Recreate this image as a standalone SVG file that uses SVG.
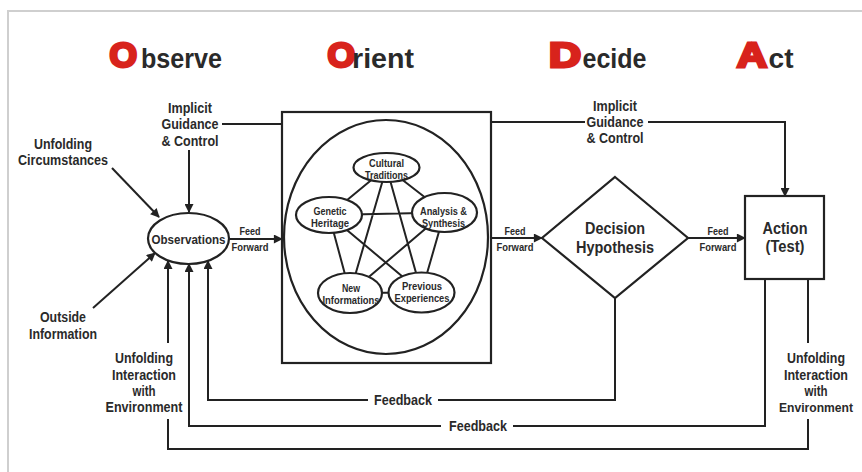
<svg xmlns="http://www.w3.org/2000/svg" width="862" height="472" viewBox="0 0 862 472">
<defs>
<marker id="ah" viewBox="0 0 10 10" refX="9" refY="5" markerWidth="11" markerHeight="9" markerUnits="userSpaceOnUse" orient="auto">
<path d="M0,0 L10,5 L0,10 z" fill="#222"/>
</marker>
<style>
.ln{fill:none;stroke:#222;stroke-width:2}
.arr{fill:none;stroke:#222;stroke-width:2;marker-end:url(#ah)}
.sh{fill:#fff;stroke:#222;stroke-width:2.2}
.t{font-family:"Liberation Sans",Arial,sans-serif;font-weight:bold;fill:#2a2a2a;text-anchor:middle}
.lb{font-size:14px}
.sm{font-size:11px}
.ff{font-size:10.5px}
.big{font-size:16px}
.red{font-family:"Liberation Sans",Arial,sans-serif;font-weight:bold;font-size:35px;fill:#d8231c;stroke:#d8231c;stroke-width:3}
.tt{font-family:"Liberation Sans",Arial,sans-serif;font-weight:bold;font-size:27px;fill:#2a2a2a}
</style>
</defs>
<rect width="862" height="472" fill="#fff"/>
<path d="M8,472 V11 H862" fill="none" stroke="#cfcfcf" stroke-width="2"/>

<g id="titles">
<text class="red" x="109.5" y="67" textLength="27.5" lengthAdjust="spacingAndGlyphs">O</text><text class="tt" x="141" y="68" textLength="81" lengthAdjust="spacingAndGlyphs">bserve</text>
<text class="red" x="327.5" y="67" textLength="27.5" lengthAdjust="spacingAndGlyphs">O</text><text class="tt" x="352" y="68" textLength="62" lengthAdjust="spacingAndGlyphs">rient</text>
<text class="red" x="549" y="67" textLength="32" lengthAdjust="spacingAndGlyphs">D</text><text class="tt" x="582.5" y="68" textLength="64" lengthAdjust="spacingAndGlyphs">ecide</text>
<text class="red" x="737" y="67" textLength="30" lengthAdjust="spacingAndGlyphs">A</text><text class="tt" x="768.5" y="68" textLength="25" lengthAdjust="spacingAndGlyphs">ct</text>
</g>

<g id="connectors">
<path class="ln" d="M222,124 H282"/>
<path class="ln" d="M491,122 H585"/>
<path class="arr" d="M648,122 H785 V196"/>
<path class="arr" d="M189,150 V212"/>
<path class="arr" d="M112,168 L159,217"/>
<path class="arr" d="M93,308 L155,253"/>
<path class="arr" d="M229,239 H282"/>
<path class="arr" d="M491,238 H542"/>
<path class="arr" d="M688,238 H745"/>
<path class="ln" d="M615,298 V400 H438"/>
<path class="arr" d="M368,400 H208 V261"/>
<path class="ln" d="M765,279 V426 H513"/>
<path class="arr" d="M441,426 H189 V264"/>
<path class="ln" d="M808,279 V343"/>
<path class="ln" d="M808,419 V449 H168 V419"/>
<path class="arr" d="M168,343 V261"/>
</g>

<g id="observations">
<ellipse class="sh" cx="188.5" cy="238.5" rx="40.5" ry="25.5"/>
<text class="t" x="188.5" y="243.5" font-size="13" textLength="74" lengthAdjust="spacingAndGlyphs">Observations</text>
</g>

<g id="orient-box">
<rect class="sh" x="282" y="112" width="209" height="251"/>
<ellipse class="sh" cx="386" cy="237" rx="102" ry="117"/>
</g>

<g id="orient-links">
<path class="ln" d="M386.5,167.5 L329,215 M386.5,167.5 L444.5,212.5 M329,215 L444.5,212.5 M386.5,167.5 L350,293 M386.5,167.5 L421.5,292.5 M329,215 L350,293 M329,215 L421.5,292.5 M444.5,212.5 L350,293 M444.5,212.5 L421.5,292.5 M350,293 L421.5,292.5"/>
</g>

<g id="cultural-traditions">
<ellipse class="sh" cx="386.5" cy="167.5" rx="33" ry="14.5"/>
<text class="t sm" x="386.5" y="167" textLength="35" lengthAdjust="spacingAndGlyphs">Cultural</text>
<text class="t sm" x="386.5" y="179" textLength="43" lengthAdjust="spacingAndGlyphs">Traditions</text>
</g>
<g id="genetic-heritage">
<ellipse class="sh" cx="329" cy="215" rx="33" ry="18"/>
<text class="t sm" x="330" y="215" textLength="33" lengthAdjust="spacingAndGlyphs">Genetic</text>
<text class="t sm" x="330" y="227" textLength="38" lengthAdjust="spacingAndGlyphs">Heritage</text>
</g>
<g id="analysis-synthesis">
<ellipse class="sh" cx="444.5" cy="212.5" rx="32.5" ry="19.5"/>
<text class="t sm" x="443.5" y="215" textLength="47" lengthAdjust="spacingAndGlyphs">Analysis &amp;</text>
<text class="t sm" x="443.5" y="227" textLength="43" lengthAdjust="spacingAndGlyphs">Synthesis</text>
</g>
<g id="new-informations">
<ellipse class="sh" cx="350" cy="293" rx="32" ry="20"/>
<text class="t sm" x="351" y="292" textLength="18" lengthAdjust="spacingAndGlyphs">New</text>
<text class="t sm" x="351" y="304" textLength="57" lengthAdjust="spacingAndGlyphs">Informations</text>
</g>
<g id="previous-experiences">
<ellipse class="sh" cx="421.5" cy="292.5" rx="33" ry="20"/>
<text class="t sm" x="422" y="290" textLength="40" lengthAdjust="spacingAndGlyphs">Previous</text>
<text class="t sm" x="422" y="302" textLength="55" lengthAdjust="spacingAndGlyphs">Experiences</text>
</g>

<g id="decision">
<path class="sh" d="M615,177 L688,238 L615,298 L542,238 Z"/>
<text class="t big" x="615" y="234" textLength="60" lengthAdjust="spacingAndGlyphs">Decision</text>
<text class="t big" x="615" y="253" textLength="78" lengthAdjust="spacingAndGlyphs">Hypothesis</text>
</g>

<g id="action">
<rect class="sh" x="745" y="196" width="79" height="83"/>
<text class="t big" x="785" y="234" textLength="45" lengthAdjust="spacingAndGlyphs">Action</text>
<text class="t big" x="785" y="252" textLength="39" lengthAdjust="spacingAndGlyphs">(Test)</text>
</g>

<g id="labels">
<text class="t lb" x="190" y="113" textLength="44" lengthAdjust="spacingAndGlyphs">Implicit</text>
<text class="t lb" x="190" y="129" textLength="57" lengthAdjust="spacingAndGlyphs">Guidance</text>
<text class="t lb" x="190" y="146" textLength="57" lengthAdjust="spacingAndGlyphs">&amp; Control</text>
<text class="t lb" x="615" y="111" textLength="44" lengthAdjust="spacingAndGlyphs">Implicit</text>
<text class="t lb" x="615" y="127" textLength="57" lengthAdjust="spacingAndGlyphs">Guidance</text>
<text class="t lb" x="615" y="143" textLength="57" lengthAdjust="spacingAndGlyphs">&amp; Control</text>
<text class="t lb" x="63" y="149" textLength="58" lengthAdjust="spacingAndGlyphs">Unfolding</text>
<text class="t lb" x="63" y="165" textLength="90" lengthAdjust="spacingAndGlyphs">Circumstances</text>
<text class="t lb" x="63" y="322" textLength="46" lengthAdjust="spacingAndGlyphs">Outside</text>
<text class="t lb" x="63" y="339" textLength="68" lengthAdjust="spacingAndGlyphs">Information</text>
<text class="t lb" x="144" y="363" textLength="58" lengthAdjust="spacingAndGlyphs">Unfolding</text>
<text class="t lb" x="144" y="380" textLength="64" lengthAdjust="spacingAndGlyphs">Interaction</text>
<text class="t lb" x="144" y="396" textLength="23" lengthAdjust="spacingAndGlyphs">with</text>
<text class="t lb" x="144" y="412" textLength="77" lengthAdjust="spacingAndGlyphs">Environment</text>
<text class="t lb" x="816" y="363" textLength="58" lengthAdjust="spacingAndGlyphs">Unfolding</text>
<text class="t lb" x="816" y="380" textLength="64" lengthAdjust="spacingAndGlyphs">Interaction</text>
<text class="t lb" x="816" y="396" textLength="23" lengthAdjust="spacingAndGlyphs">with</text>
<text class="t" x="816" y="412" font-size="13" textLength="74" lengthAdjust="spacingAndGlyphs">Environment</text>
<text class="t lb" x="403" y="405" textLength="58" lengthAdjust="spacingAndGlyphs">Feedback</text>
<text class="t lb" x="478" y="431" textLength="58" lengthAdjust="spacingAndGlyphs">Feedback</text>
<text class="t ff" x="250" y="235" textLength="21" lengthAdjust="spacingAndGlyphs">Feed</text>
<text class="t ff" x="250" y="251" textLength="37" lengthAdjust="spacingAndGlyphs">Forward</text>
<text class="t ff" x="515" y="235" textLength="21" lengthAdjust="spacingAndGlyphs">Feed</text>
<text class="t ff" x="515" y="251" textLength="37" lengthAdjust="spacingAndGlyphs">Forward</text>
<text class="t ff" x="718" y="235" textLength="21" lengthAdjust="spacingAndGlyphs">Feed</text>
<text class="t ff" x="718" y="251" textLength="37" lengthAdjust="spacingAndGlyphs">Forward</text>
</g>
</svg>
